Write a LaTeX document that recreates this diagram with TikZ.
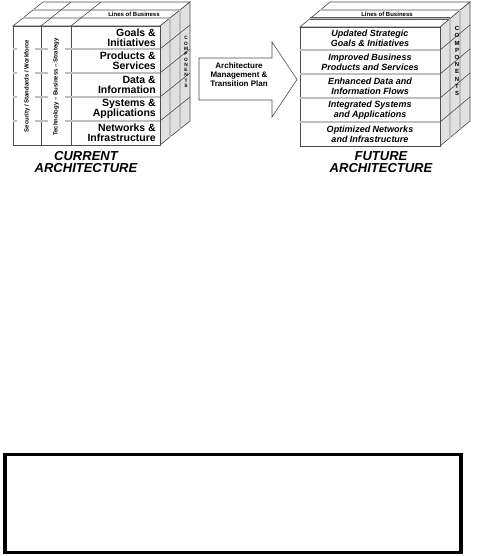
\documentclass[tikz,border=0pt]{standalone}
\usepackage{fontspec}
\setmainfont{Liberation Sans}
\usetikzlibrary{positioning}

\tikzset{
  face/.style={draw=black!70, line width=0.6pt},
  side/.style={draw=black!70, line width=0.6pt, fill=black!12},
  gap/.style={draw=black!65, line width=0.4pt, double=black!25, double distance=1.6pt},
  rowtxt/.style={font=\fontsize{10.5}{10}\selectfont\bfseries, align=right, anchor=east, inner sep=0pt},
  newtxt/.style={font=\fontsize{9}{10}\selectfont\bfseries\itshape, align=center, inner sep=0pt},
  captxt/.style={font=\fontsize{13}{11.5}\selectfont\bfseries\itshape, align=center, inner sep=0pt},
  vtxt/.style={font=\fontsize{6}{6}\selectfont\bfseries, rotate=90, inner sep=0pt},
  smalltxt/.style={font=\fontsize{6}{6}\selectfont\bfseries, inner sep=0pt},
  comptxt/.style={font=\fontsize{4.8}{5.3}\selectfont\bfseries, align=center, inner sep=0pt},
}

\begin{document}
\begin{tikzpicture}[x=1pt,y=-1pt]
  \useasboundingbox (0,0) rectangle (477,556);

  % current architecture cube
  \draw[face,fill=white] (13,26) -- (43,2) -- (190,2) -- (160,26) -- cycle;
  \draw[gap] (23,18) -- (170,18);
  \draw[gap] (33,10) -- (180,10);
  \draw[face] (41,26) -- (71,2);
  \draw[face] (71,26) -- (101,2);
  \draw[side] (160,26) -- (190,2) -- (190,121) -- (160,145) -- cycle;
  \draw[gap] (170,18) -- (170,137);
  \draw[gap] (180,10) -- (180,129);
  \foreach \y in {49,73,97,121}
    \draw[face] (160,\y) -- (190,\y-24);
  \draw[face,fill=white] (13,26) rectangle (160,145);
  \draw[face] (41,26) -- (41,145);
  \draw[face] (71,26) -- (71,145);
  \foreach \y in {49,73,97,121} {
    \draw[gap] (71,\y) -- (160,\y);
    \draw[gap] (13,\y) -- (17,\y);
    \draw[gap] (35,\y) -- (48,\y);
    \draw[gap] (65,\y) -- (77,\y);
  }

  \node[smalltxt] (lob1) at (134,14) {Lines of Business};
  \node[vtxt] (sec) at (27,86) {Security / Standards / Workforce};
  \node[vtxt] (tech) at (56,87) {Technology -- Business -- Strategy};
  \node[comptxt] (comp1) at (186,62) {C\\O\\M\\P\\O\\N\\E\\N\\T\\S};

  \node[rowtxt] (c1) at (156,37.5) {Goals \&\\Initiatives};
  \node[rowtxt] (c2) at (156,61) {Products \&\\Services};
  \node[rowtxt] (c3) at (156,85) {Data \&\\Information};
  \node[rowtxt] (c4) at (156,109) {Systems \&\\Applications};
  \node[rowtxt] (c5) at (156,133) {Networks \&\\Infrastructure};

  \node[captxt] (cur) at (86,162) {CURRENT\\ARCHITECTURE};

  % transition arrow
  \draw[face,fill=white] (199,58) -- (272,58) -- (272,42) -- (297,79.5)
    -- (272,117) -- (272,100) -- (199,100) -- cycle;
  \node[font=\fontsize{8}{9}\selectfont\bfseries, align=center] (plan) at (239,75)
    {Architecture\\Management \&\\Transition Plan};

  % future architecture cube
  \draw[face,fill=white] (300,27) -- (330,2) -- (470,2) -- (440,27) -- cycle;
  \draw[gap] (310,18.7) -- (450,18.7);
  \draw[gap] (320,10.3) -- (460,10.3);
  \draw[side] (440,27) -- (470,2) -- (470,121) -- (440,146) -- cycle;
  \draw[gap] (450,18.7) -- (450,137.7);
  \draw[gap] (460,10.3) -- (460,129.3);
  \foreach \y in {50,74,98,122}
    \draw[face] (440,\y) -- (470,\y-25);
  \draw[face,fill=white] (300,27) rectangle (440,146);
  \foreach \y in {50,74,98,122}
    \draw[gap] (300,\y) -- (440,\y);

  \node[smalltxt] (lob2) at (387,14.5) {Lines of Business};
  \node[comptxt, font=\fontsize{6}{7.2}\selectfont\bfseries] (comp2) at (457,61)
    {C\\O\\M\\P\\O\\N\\E\\N\\T\\S};

  \node[newtxt] (f1) at (370,38.5) {Updated Strategic\\Goals \& Initiatives};
  \node[newtxt] (f2) at (370,62) {Improved Business\\Products and Services};
  \node[newtxt] (f3) at (370,86) {Enhanced Data and\\Information Flows};
  \node[newtxt] (f4) at (370,110) {Integrated Systems\\and Applications};
  \node[newtxt] (f5) at (370,134) {Optimized Networks\\and Infrastructure};

  \node[captxt] (fut) at (381,162) {FUTURE\\ARCHITECTURE};

  % empty box
  \node[draw, line width=3.2pt, minimum width=456pt, minimum height=98pt, inner sep=0pt]
    (note) at (232.9,503.5) {};
\end{tikzpicture}
\end{document}
